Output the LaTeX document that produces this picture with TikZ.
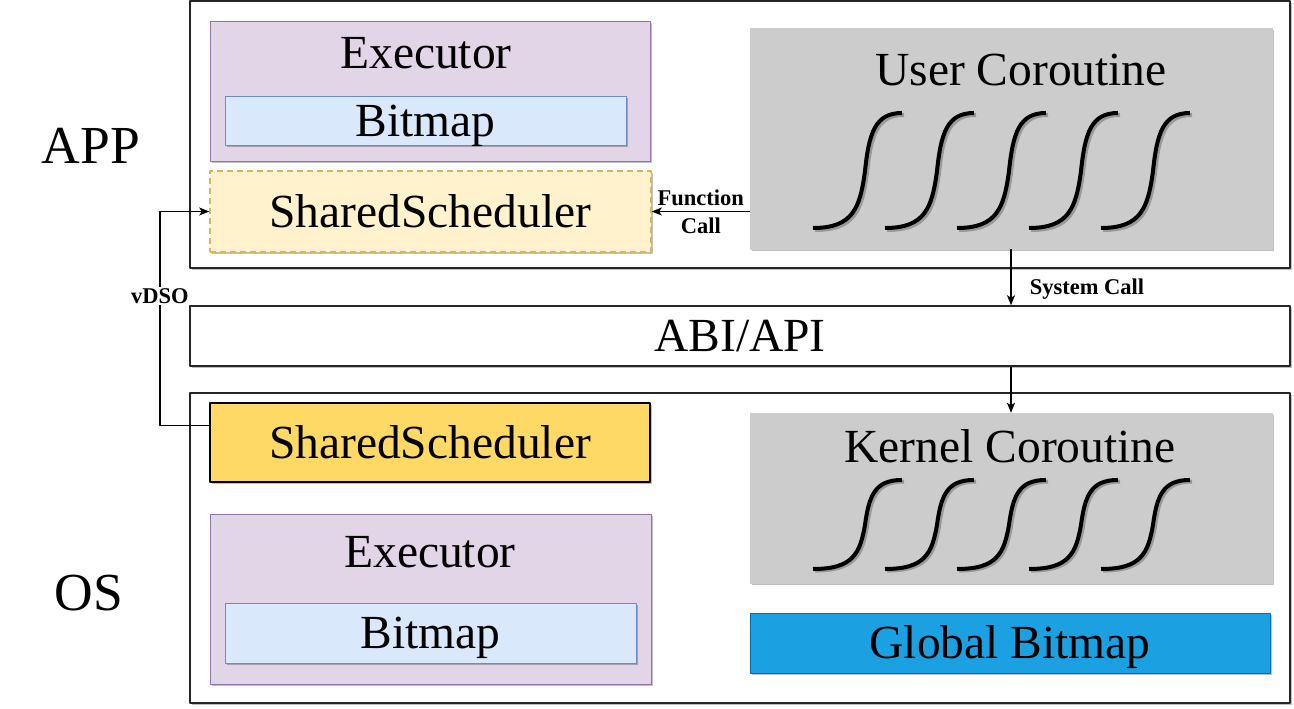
\documentclass[tikz,border=0pt]{standalone}
\usepackage{fontspec}
\setmainfont{Liberation Serif}
\usetikzlibrary{arrows.meta,shadows,positioning,calc}

\definecolor{execfill}{HTML}{E1D5E7}
\definecolor{execline}{HTML}{9673A6}
\definecolor{bmpfill}{HTML}{DAE8FC}
\definecolor{bmpline}{HTML}{6C8EBF}
\definecolor{ssfill}{HTML}{FFF2CC}
\definecolor{ssline}{HTML}{D6B656}
\definecolor{ssosfill}{HTML}{FFD966}
\definecolor{cogray}{HTML}{CCCCCC}
\definecolor{gbmpfill}{HTML}{1BA1E2}
\definecolor{gbmpline}{HTML}{006EAF}

\tikzset{
  coro/.pic={
    \draw[line width=4pt,black!40] (2,2) .. controls (42,2) and (49,-18) .. (54,-55) .. controls (58,-93) and (64,-113) .. (91,-113);
    \draw[line width=4pt,black] (0,0) .. controls (40,0) and (47,-20) .. (52,-57) .. controls (56,-95) and (62,-115) .. (89,-115);
  }
}

\begin{document}
\begin{tikzpicture}[>={Stealth[length=10pt,width=8pt,inset=2.5pt]},x=1pt,y=-1pt,line join=bevel,
  box/.style={draw,rectangle,inner sep=0pt,text height=31pt,text depth=0pt,
    font=\fontsize{47.5}{50}\selectfont,
    drop shadow={shadow xshift=2pt,shadow yshift=-2pt,fill=black,opacity=0.25}},
  layer/.style={box,line width=1.5pt,draw=black!85,fill=white},
  execbox/.style={box,line width=0.8pt,draw=execline,fill=execfill},
  bmpbox/.style={box,line width=0.8pt,draw=bmpline,fill=bmpfill},
  cobox/.style={box,draw=cogray,fill=cogray},
  title/.style={anchor=base,inner sep=0pt,font=\fontsize{47.5}{50}\selectfont},
  side/.style={anchor=base,inner sep=0pt,font=\fontsize{53.5}{56}\selectfont},
  tag/.style={font=\bfseries\fontsize{22.5}{28}\selectfont,inner sep=1pt},
  link/.style={line width=1.5pt,->},
]
\useasboundingbox (0,0) rectangle (1294,709);

% layers
\node[layer,minimum width=1100pt,minimum height=267pt] (app) at (740,134.5) {};
\node[layer,minimum width=1100pt,minimum height=60pt] (abi) at (740,336) {ABI/API};
\node[layer,minimum width=1100pt,minimum height=310pt] (os) at (740,548) {};
\node[side] (applbl) at (91,163) {APP};
\node[side] (oslbl) at (89,610) {OS};

% app side
\node[execbox,minimum width=440pt,minimum height=140pt] (exec1) at (430,91) {};
\node[title] (exec1t) at (426,69) {Executor};
\node[bmpbox,minimum width=401pt,minimum height=49pt] (bmp1) at (425.5,120.5) {Bitmap};
\node[box,line width=1.5pt,draw=ssline,fill=ssfill,dash pattern=on 6pt off 4pt,
  minimum width=441pt,minimum height=81pt] (ss1) at (430.5,211.5) {SharedScheduler};
\node[cobox,minimum width=522pt,minimum height=221pt] (ucor) at (1011,138.5) {};
\node[title] (ucort) at (1021,85) {User Coroutine};
\foreach \i in {0,...,4}
  \pic at ({813+72*\i},228) {coro};

% os side
\node[box,line width=1.5pt,fill=ssosfill,minimum width=440pt,minimum height=79pt] (ss2) at (430,442.5) {SharedScheduler};
\node[execbox,minimum width=441pt,minimum height=170pt] (exec2) at (430.5,599) {};
\node[title] (exec2t) at (430,567) {Executor};
\node[bmpbox,minimum width=411pt,minimum height=60pt] (bmp2) at (430.5,633) {Bitmap};
\node[cobox,minimum width=522pt,minimum height=170pt] (kcor) at (1011,498) {};
\node[title] (kcort) at (1010,462) {Kernel Coroutine};
\foreach \i in {0,...,4}
  \pic[yscale=0.774] at ({813+72*\i},569) {coro};
\node[box,line width=0.8pt,draw=gbmpline,fill=gbmpfill,minimum width=520pt,minimum height=60pt] (gbmp) at (1010,643) {Global Bitmap};

% calls
\draw[link] (ucor.west |- ss1.east) -- node[tag,align=center] (fcall) {Function\\Call} (ss1.east);
\draw[link] (ucor.south) -- node[tag,anchor=west,pos=0.72,xshift=17pt] (scall) {System Call} (abi.north -| ucor.south);
\draw[link] (abi.south -| kcor.north) -- (kcor.north);
\coordinate (vdsox) at (160,0);
\draw[link] ([yshift=17pt]ss2.west) -| (vdsox |- ss1.west) -- (ss1.west);
\node[tag,fill=white] (vdso) at (160,296) {vDSO};
\end{tikzpicture}
\end{document}
